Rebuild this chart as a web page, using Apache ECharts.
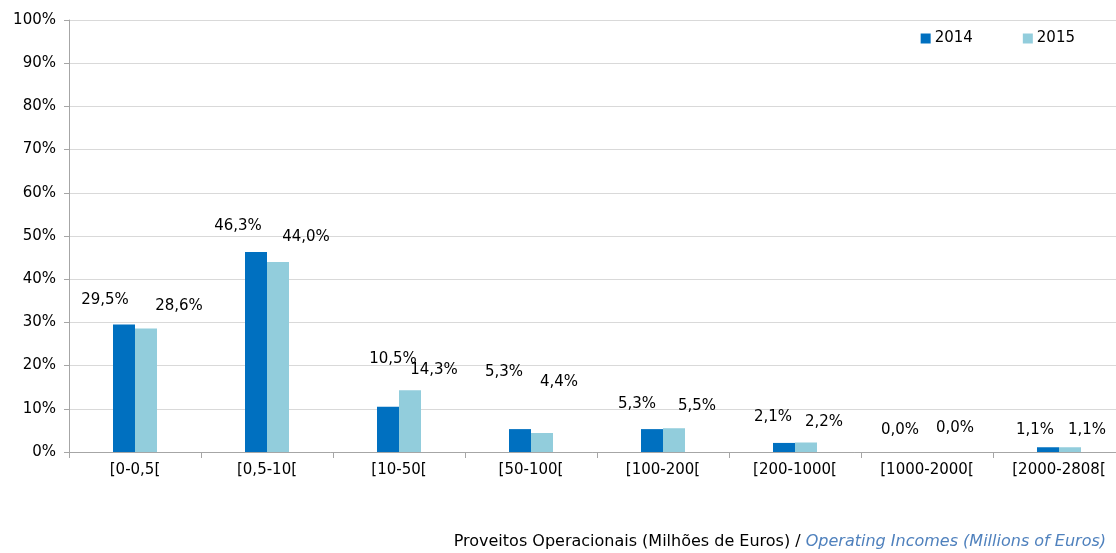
<!DOCTYPE html>
<html>
<head>
<meta charset="utf-8">
<script src="https://cdn.jsdelivr.net/npm/echarts@6/dist/echarts.min.js"></script>
<style>
html, body { margin: 0; padding: 0; background: #fff; }
#chart { width: 1116px; height: 553px; }
</style>
</head>
<body>
<div id="chart"></div>
<script>
var categories = ["[0-0,5[", "[0,5-10[", "[10-50[", "[50-100[", "[100-200[", "[200-1000[", "[1000-2000[", "[2000-2808["];
var values2014 = [29.5, 46.3, 10.5, 5.3, 5.3, 2.1, 0.0, 1.1];
var values2015 = [28.6, 44.0, 14.3, 4.4, 5.5, 2.2, 0.0, 1.1];
var yTicks = [0, 10, 20, 30, 40, 50, 60, 70, 80, 90, 100];

// labels were placed by hand in the original, so nudge each one
var offsets2014 = [[-19, -17], [-18, -18], [5, -40], [-16, -49], [-15, -17], [-11, -18], [-16, -14], [-13, -10]];
var offsets2015 = [[33, -15], [28, -17], [24, -13], [17, -43], [23, -15], [18, -13], [17, -16], [17, -10]];

var font = "'DejaVu Sans', 'Noto Sans', sans-serif";

function fmt(v) {
	return v.toFixed(1).replace(".", ",") + "%";
}

function buildData(values, offsets) {
	var out = [];
	for (var i = 0; i < values.length; i++) {
		out.push({
			value: values[i],
			label: { offset: offsets[i] }
		});
	}
	return out;
}

var labelStyle = {
	show: true,
	position: "top",
	distance: 0,
	color: "#000",
	fontFamily: font,
	fontSize: 15,
	formatter: function(p) { return fmt(p.value); }
};

var myChart = echarts.init(document.getElementById("chart"), null, { renderer: "canvas" });

var option = {
	animation: false,
	textStyle: { fontFamily: font },
	grid: { left: 69, right: -9, top: 20, bottom: 101, outerBoundsMode: "none", containLabel: false },
	legend: {
		top: 26,
		right: 36,
		itemWidth: 10,
		itemHeight: 10,
		itemGap: 50,
		icon: "rect",
		textStyle: { fontFamily: font, fontSize: 15, color: "#000", padding: [0, 0, 0, -1] },
		data: ["2014", "2015"]
	},
	title: {
		right: 10,
		top: 534,
		padding: 0,
		text: "{a|Proveitos Operacionais (Milhões de Euros) / }{b|Operating Incomes (Millions of Euros)}",
		textStyle: {
			fontWeight: "normal",
			rich: {
				a: { fontFamily: font, fontSize: 16, color: "#000", fontWeight: "normal" },
				b: { fontFamily: font, fontSize: 16, color: "#4F81BD", fontStyle: "italic", fontWeight: "normal" }
			}
		}
	},
	xAxis: {
		type: "category",
		data: categories,
		axisLine: { lineStyle: { color: "#a6a6a6" } },
		axisTick: { show: true, length: 6, lineStyle: { color: "#a6a6a6" } },
		axisLabel: { color: "#000", fontFamily: font, fontSize: 15, margin: 11 }
	},
	yAxis: {
		type: "value",
		min: yTicks[0],
		max: yTicks[yTicks.length - 1],
		interval: 10,
		axisLine: { show: true, lineStyle: { color: "#a6a6a6" } },
		axisTick: { show: true, length: 5, lineStyle: { color: "#a6a6a6" } },
		splitLine: { lineStyle: { color: "#d9d9d9" } },
		axisLabel: {
			color: "#000",
			fontFamily: font,
			fontSize: 15,
			margin: 13,
			formatter: function(v) { return v + "%"; }
		}
	},
	series: [
		{
			name: "2014",
			type: "bar",
			barWidth: 22,
			barGap: "0%",
			itemStyle: { color: "#0070C0" },
			label: labelStyle,
			data: buildData(values2014, offsets2014)
		},
		{
			name: "2015",
			type: "bar",
			barWidth: 22,
			barGap: "0%",
			itemStyle: { color: "#92CDDC" },
			label: labelStyle,
			data: buildData(values2015, offsets2015)
		}
	]
};

myChart.setOption(option);
</script>
</body>
</html>
